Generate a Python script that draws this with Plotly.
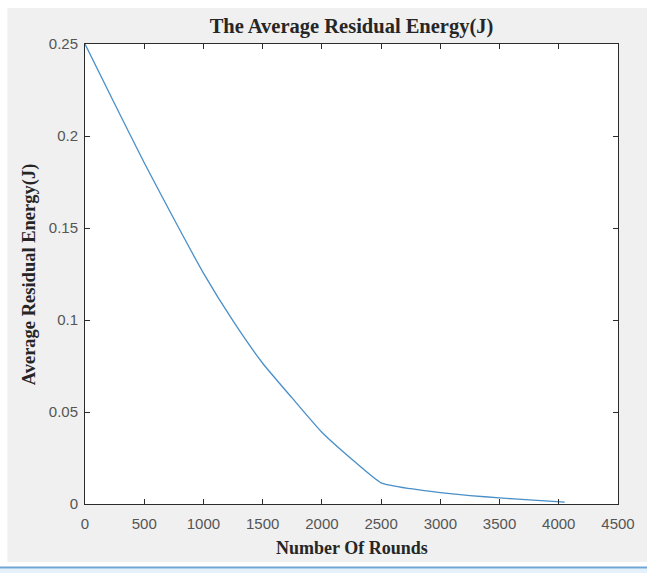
import plotly.graph_objects as go

rounds = [0, 250, 500, 750, 1000, 1250, 1500, 1750, 2000, 2250, 2500, 2750, 3000, 3250, 3500, 3750, 4050]
avg_energy = [0.25, 0.2175, 0.1855, 0.155, 0.1255, 0.0995, 0.0765, 0.0575, 0.039, 0.0245, 0.0115, 0.0083, 0.0062, 0.0046, 0.0033, 0.0022, 0.001]

x_ticks = [0, 500, 1000, 1500, 2000, 2500, 3000, 3500, 4000, 4500]
y_ticks = [0, 0.05, 0.1, 0.15, 0.2, 0.25]
y_tick_labels = ["0", "0.05", "0.1", "0.15", "0.2", "0.25"]

title_text = "The Average Residual Energy(J)"
x_title = "Number Of Rounds"
y_title = "Average Residual Energy(J)"

W, H = 647, 573
L, R, T, B = 85, 26, 44, 69
pw, ph = W - L - R, H - T - B

def px(xp):
    return (xp - L) / pw

def py(yp):
    return (H - B - yp) / ph

fig = go.Figure()
fig.add_trace(go.Scatter(x=rounds, y=avg_energy, mode="lines",
                         line=dict(color="#4a8fc8", width=1.3, shape="spline", smoothing=0.5),
                         showlegend=False))

axis_common = dict(showline=True, linecolor="#2b2b2b", linewidth=1, mirror="ticks",
                   ticks="inside", ticklen=5, tickcolor="#2b2b2b", tickwidth=1,
                   showgrid=False, zeroline=False,
                   tickfont=dict(family="Liberation Sans, Arial", size=15, color="#555555"))

fig.update_xaxes(range=[0, 4500], tickvals=x_ticks, ticktext=[str(v) for v in x_ticks],
                 ticklabelstandoff=6, **axis_common)
fig.update_yaxes(range=[0, 0.25], tickvals=y_ticks, ticktext=y_tick_labels,
                 ticklabelstandoff=3, **axis_common)

shapes = [
    # white strips around the grey figure window
    dict(type="rect", xref="paper", yref="paper", x0=px(-5), x1=px(W + 5), y0=py(8), y1=py(-5),
         fillcolor="white", line=dict(width=0), layer="below"),
    dict(type="rect", xref="paper", yref="paper", x0=px(-5), x1=px(7), y0=py(H + 5), y1=py(-5),
         fillcolor="white", line=dict(width=0), layer="below"),
    dict(type="rect", xref="paper", yref="paper", x0=px(-5), x1=px(W + 5), y0=py(H + 5), y1=py(562),
         fillcolor="white", line=dict(width=0), layer="below"),
    dict(type="rect", xref="paper", yref="paper", x0=px(-5), x1=px(W + 5), y0=py(H + 5), y1=py(568.5),
         fillcolor="#e4f0fa", line=dict(width=0), layer="below"),
    dict(type="line", xref="paper", yref="paper", x0=px(-5), x1=px(W + 5), y0=py(567.5), y1=py(567.5),
         line=dict(color="#6fa6d6", width=2), layer="below"),
]

serif = "Liberation Serif, Times New Roman"
annotations = [
    dict(text="<b>" + x_title + "</b>", xref="paper", yref="paper", x=0.5, y=py(548),
         xanchor="center", yanchor="middle", showarrow=False,
         font=dict(family=serif, size=18, color="#262626")),
    dict(text="<b>" + y_title + "</b>", xref="paper", yref="paper", x=px(29), y=0.5,
         xanchor="center", yanchor="middle", textangle=-90, showarrow=False,
         font=dict(family=serif, size=18.5, color="#262626")),
]

fig.update_layout(
    width=W, height=H,
    margin=dict(l=L, r=R, t=T, b=B, pad=0),
    paper_bgcolor="#f0f0f0", plot_bgcolor="white",
    title=dict(text="<b>" + title_text + "</b>", x=0.5, xref="paper", xanchor="center",
               y=(H - 26) / H, yref="container", yanchor="middle",
               font=dict(family=serif, size=20.5, color="#262626")),
    shapes=shapes, annotations=annotations,
)

fig.write_html("out.html")
